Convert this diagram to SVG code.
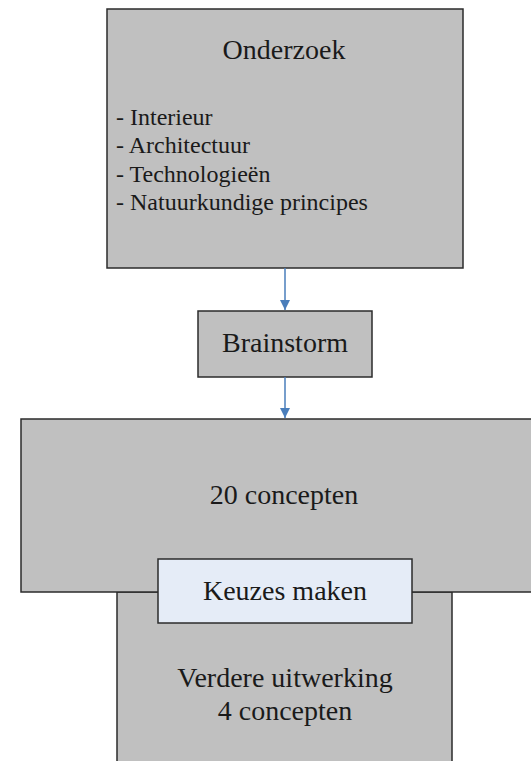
<svg xmlns="http://www.w3.org/2000/svg" width="531" height="761" viewBox="0 0 531 761">
<defs>
<style>
.box{fill:#c0c0c0;stroke:#2b2b2b;stroke-width:1.5}
.sel{fill:#e5ecf7;stroke:#2b2b2b;stroke-width:1.5}
.t{font-family:"Liberation Serif","Times New Roman",serif;font-size:28px;fill:#1a1a1a}
.l{font-family:"Liberation Serif","Times New Roman",serif;font-size:24px;fill:#1a1a1a}
.c{stroke:#4a7ebb;stroke-width:1.5;fill:none}
</style>
<marker id="ah" viewBox="0 0 10 10" refX="10" refY="5" markerWidth="10" markerHeight="10" markerUnits="userSpaceOnUse" orient="auto">
<path d="M0,0 L10,5 L0,10 z" fill="#4a7ebb"/>
</marker>
</defs>
<rect width="531" height="761" fill="#ffffff"/>
<g id="onderzoek">
<rect class="box" x="107" y="9" width="356" height="259"/>
<text class="t" x="284" y="59" text-anchor="middle">Onderzoek</text>
<text class="l" x="116" y="125">- Interieur</text>
<text class="l" x="116" y="153">- Architectuur</text>
<text class="l" x="116" y="182">- Technologieën</text>
<text class="l" x="116" y="210">- Natuurkundige principes</text>
</g>
<g id="brainstorm">
<rect class="box" x="198" y="311" width="174" height="66"/>
<text class="t" x="285" y="352" text-anchor="middle">Brainstorm</text>
</g>
<g id="uitwerking">
<rect class="box" x="117" y="592" width="335" height="180"/>
<text class="t" x="285" y="687" text-anchor="middle">Verdere uitwerking</text>
<text class="t" x="285" y="720" text-anchor="middle">4 concepten</text>
</g>
<g id="concepten">
<rect class="box" x="21" y="419" width="520" height="173"/>
<text class="t" x="284" y="504" text-anchor="middle">20 concepten</text>
</g>
<g id="keuzes">
<rect class="sel" x="158" y="559" width="254" height="64"/>
<text class="t" x="285" y="600" text-anchor="middle">Keuzes maken</text>
</g>
<g id="connectors">
<line class="c" x1="285" y1="268" x2="285" y2="310" marker-end="url(#ah)"/>
<line class="c" x1="285" y1="377" x2="285" y2="418" marker-end="url(#ah)"/>
</g>
</svg>
